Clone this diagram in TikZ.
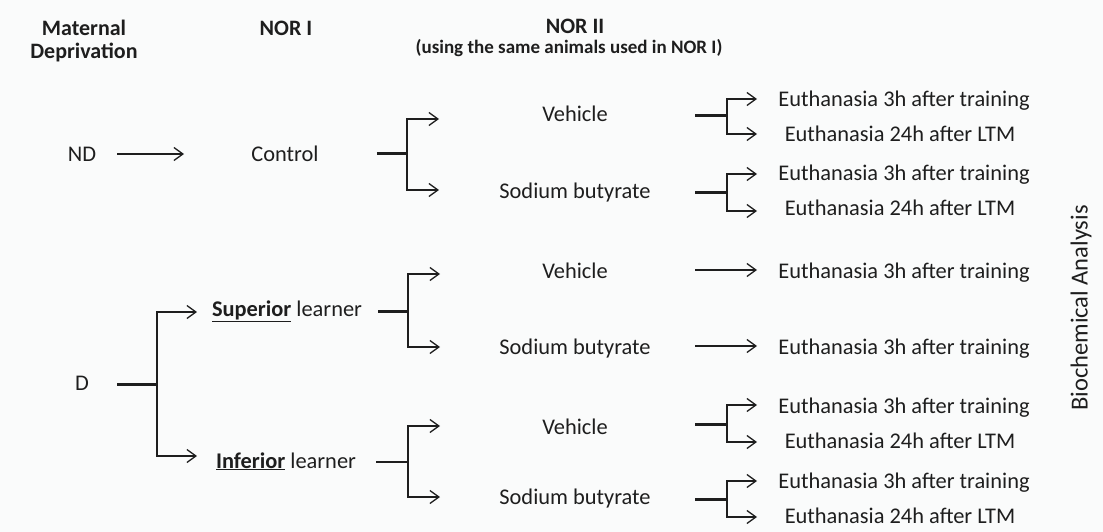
\documentclass[tikz,border=0pt]{standalone}
\usepackage{fontspec}
\setmainfont{Carlito}
\usetikzlibrary{arrows.meta}
\definecolor{paper}{RGB}{250,251,251}
\definecolor{ink}{RGB}{30,30,30}
\tikzset{
  lbl/.style={font=\fontsize{22.4}{26}\selectfont, inner sep=0pt, anchor=base, yshift=-7pt, text=ink},
  hdr/.style={font=\fontsize{22}{23}\selectfont\bfseries, inner sep=0pt, align=center, text=ink},
  subhdr/.style={font=\fontsize{19}{22}\selectfont\bfseries, inner sep=0pt, text=ink},
  sidelbl/.style={font=\fontsize{24.5}{28}\selectfont, inner sep=0pt, rotate=90, text=ink},
  arr/.style={draw=ink, line width=1.3pt, -{Straight Barb[length=9pt,width=13pt,line width=1.3pt]}},
  trunk/.style={draw=ink, line width=3pt},
  thintrunk/.style={draw=ink, line width=1.4pt},
}
\begin{document}
\begin{tikzpicture}[x=1pt,y=-1pt]
\fill[paper] (0,0) rectangle (1103,532);

% column headers
\node[hdr] (mdep) at (84,41) {Maternal\\Deprivation};
\node[hdr] (nor1) at (286,28) {NOR I};
\node[hdr] (nor2) at (575,26) {NOR II};
\node[subhdr] (nor2sub) at (569,48) {(using the same animals used in NOR I)};

% ND branch
\node[lbl] (nd) at (82,154) {ND};
\node[lbl] (ctrl) at (285,154) {Control};
\coordinate (a0) at (184,154);
\draw[arr] ([xshift=21pt]nd.east |- a0) -- (a0);
\coordinate (j1) at (407,154);
\coordinate (t1a) at (439,119);
\coordinate (t1b) at (439,190);
\draw[trunk] ([xshift=58pt]ctrl.east |- j1) -- (j1);
\draw[arr] (j1) |- (t1a);
\draw[arr] (j1) |- (t1b);
\node[lbl] (veh1) at (575,115) {Vehicle};
\node[lbl] (sod1) at (575,191) {Sodium butyrate};

\coordinate (j2) at (727,116);
\coordinate (t2a) at (757,99);
\coordinate (t2b) at (757,134);
\draw[trunk] (695,116) -- (j2);
\draw[arr] (j2) |- (t2a);
\draw[arr] (j2) |- (t2b);
\node[lbl] (eu1) at (904,100) {Euthanasia 3h after training};
\node[lbl] (eu2) at (900,135) {Euthanasia 24h after LTM};

\coordinate (j3) at (727,192);
\coordinate (t3a) at (757,174);
\coordinate (t3b) at (757,211);
\draw[trunk] (695,192) -- (j3);
\draw[arr] (j3) |- (t3a);
\draw[arr] (j3) |- (t3b);
\node[lbl] (eu3) at (904,173) {Euthanasia 3h after training};
\node[lbl] (eu4) at (900,208) {Euthanasia 24h after LTM};

% D branch
\node[lbl] (d) at (82,383) {D};
\coordinate (j4) at (157,384);
\coordinate (t4a) at (197,312);
\coordinate (t4b) at (197,456);
\draw[trunk] (117,384) -- (j4);
\draw[arr] (j4) |- (t4a);
\draw[arr] (j4) |- (t4b);
\node[lbl] (sup) at (287,309) {\underline{\textbf{Superior}} learner};
\node[lbl] (inf) at (286,461) {\underline{\textbf{Inferior}} learner};

\coordinate (j5) at (408,311);
\coordinate (t5a) at (440,274);
\coordinate (t5b) at (440,347);
\draw[trunk] (378,311) -- (j5);
\draw[arr] (j5) |- (t5a);
\draw[arr] (j5) |- (t5b);
\node[lbl] (veh2) at (575,271) {Vehicle};
\node[lbl] (sod2) at (575,347) {Sodium butyrate};
\node[lbl] (eu5) at (904,271) {Euthanasia 3h after training};
\node[lbl] (eu6) at (904,347) {Euthanasia 3h after training};
\coordinate (a5) at (757,270);
\coordinate (a6) at (757,346);
\draw[arr] (695,270) -- (a5);
\draw[arr] (695,346) -- (a6);

\coordinate (j6) at (408,462);
\coordinate (t6a) at (440,426);
\coordinate (t6b) at (440,497);
\draw[thintrunk] (376,462) -- (j6);
\draw[arr] (j6) |- (t6a);
\draw[arr] (j6) |- (t6b);
\node[lbl] (veh3) at (575,427) {Vehicle};
\node[lbl] (sod3) at (575,497) {Sodium butyrate};

\coordinate (j7) at (727,424);
\coordinate (t7a) at (757,405);
\coordinate (t7b) at (757,442);
\draw[trunk] (695,424) -- (j7);
\draw[arr] (j7) |- (t7a);
\draw[arr] (j7) |- (t7b);
\node[lbl] (eu7) at (904,406) {Euthanasia 3h after training};
\node[lbl] (eu8) at (900,441) {Euthanasia 24h after LTM};

\coordinate (j8) at (727,499);
\coordinate (t8a) at (757,481);
\coordinate (t8b) at (757,517);
\draw[trunk] (695,499) -- (j8);
\draw[arr] (j8) |- (t8a);
\draw[arr] (j8) |- (t8b);
\node[lbl] (eu9) at (904,481) {Euthanasia 3h after training};
\node[lbl] (eu10) at (900,516) {Euthanasia 24h after LTM};

% right label
\node[sidelbl] (bio) at (1081,308) {Biochemical Analysis};
\end{tikzpicture}
\end{document}
